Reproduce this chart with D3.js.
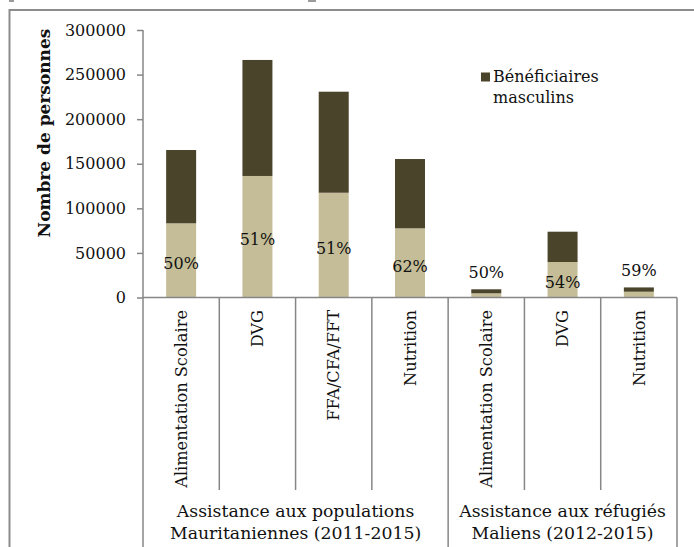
<!DOCTYPE html>
<html>
<head>
<meta charset="utf-8">
<script src="https://cdn.jsdelivr.net/npm/d3@7"></script>
<style>
  html, body { margin: 0; padding: 0; background: #fff; }
  svg { display: block; }
  text { font-family: "DejaVu Serif", "Liberation Serif", serif; fill: #111; }
</style>
</head>
<body>
<svg id="chart" width="694" height="547"></svg>
<script>
// Beneficiaries per programme activity
const categories = ["Alimentation Scolaire", "DVG", "FFA/CFA/FFT", "Nutrition",
                    "Alimentation Scolaire", "DVG", "Nutrition"];
const groupOf = [0, 0, 0, 0, 1, 1, 1];
const groups = [
  ["Assistance aux populations", "Mauritaniennes (2011-2015)"],
  ["Assistance aux réfugiés", "Maliens (2012-2015)"]
];
const female = [83200, 136300, 117500, 77600, 4700, 39800, 6500];
const male = [82200, 130100, 113300, 77700, 4500, 34000, 4800];
const shareLabels = ["50%", "51%", "51%", "62%", "50%", "54%", "59%"];
const yTicks = [0, 50000, 100000, 150000, 200000, 250000, 300000];
const legendLabel = ["Bénéficiaires", "masculins"];

const colFemale = "#c4bd97";
const colMale = "#4a442a";
const colAxis = "#868686";

const svg = d3.select("#chart");

// outer frame
svg.append("path")
  .attr("d", "M9.5,547 V10 H694")
  .attr("fill", "none").attr("stroke", "#8c8c8c").attr("stroke-width", 2);
svg.append("rect").attr("x", 9).attr("y", 0).attr("width", 5).attr("height", 2).attr("fill", "#9a9a9a");
svg.append("rect").attr("x", 308).attr("y", 0).attr("width", 8).attr("height", 2).attr("fill", "#9a9a9a");

const idx = d3.range(categories.length);
const x = d3.scaleBand().domain(idx).range([143, 677]).paddingInner(0).paddingOuter(0);
const y = d3.scaleLinear().domain([0, 300000]).range([297.5, 30]);
const barW = 30;

// stacked data
const rows = idx.map(i => ({ i, female: female[i], male: male[i] }));
const stack = d3.stack().keys(["female", "male"])(rows);
const colors = { female: colFemale, male: colMale };

svg.append("g").selectAll("g").data(stack).join("g")
  .attr("fill", s => colors[s.key])
  .selectAll("rect").data(s => s).join("rect")
  .attr("x", d => x(d.data.i) + x.bandwidth() / 2 - barW / 2)
  .attr("width", barW)
  .attr("y", d => y(d[1]))
  .attr("height", d => y(d[0]) - y(d[1]));

// y axis
const yAxis = svg.append("g")
  .attr("transform", "translate(143,0)")
  .call(d3.axisLeft(y).tickValues(yTicks).tickSize(6).tickSizeOuter(0).tickPadding(11)
    .tickFormat(d => String(d)));
yAxis.select(".domain").remove();
yAxis.selectAll(".tick line").attr("stroke", colAxis).attr("stroke-width", 1.5);
yAxis.selectAll(".tick text")
  .attr("font-family", "DejaVu Serif").attr("font-size", 16).attr("fill", "#111");

// axis lines and category dividers
const ax = svg.append("g").attr("stroke", colAxis).attr("stroke-width", 1.5).attr("fill", "none");
ax.append("line").attr("x1", 143).attr("x2", 143).attr("y1", 30).attr("y2", 547);
ax.append("line").attr("x1", 143).attr("x2", 677).attr("y1", 297.5).attr("y2", 297.5);
idx.slice(1).concat([categories.length]).forEach(i => {
  const xb = i < categories.length ? x(i) : x.range()[1];
  const isGroupEdge = i === categories.length || groupOf[i] !== groupOf[i - 1];
  ax.append("line").attr("x1", xb).attr("x2", xb)
    .attr("y1", 297.5).attr("y2", isGroupEdge ? 547 : 490);
});

// category labels
svg.append("g").selectAll("text").data(idx).join("text")
  .attr("transform", i => `translate(${x(i) + x.bandwidth() / 2},310) rotate(-90)`)
  .attr("text-anchor", "end").attr("dy", "0.35em")
  .attr("font-size", 16.2)
  .text(i => categories[i]);

// group labels
groups.forEach((g, gi) => {
  const members = idx.filter(i => groupOf[i] === gi);
  const x0 = x(members[0]);
  const x1 = x(members[members.length - 1]) + x.bandwidth();
  const t = svg.append("text")
    .attr("x", (x0 + x1) / 2).attr("y", 511)
    .attr("text-anchor", "middle").attr("font-size", 17.3);
  g.forEach((line, li) => {
    t.append("tspan").attr("x", (x0 + x1) / 2).attr("dy", li === 0 ? "0.35em" : 22).text(line);
  });
});

// share labels
svg.append("g").selectAll("text").data(rows).join("text")
  .attr("x", d => x(d.i) + x.bandwidth() / 2)
  .attr("y", d => {
    const h = y(0) - y(d.female);
    return h > 20 ? (y(0) + y(d.female)) / 2 + 3 : y(d.female + d.male) - 17;
  })
  .attr("text-anchor", "middle").attr("dy", "0.35em")
  .attr("font-size", 16)
  .text(d => shareLabels[d.i]);

// y title
svg.append("text")
  .attr("transform", "translate(44,133) rotate(-90)")
  .attr("text-anchor", "middle").attr("dy", "0.35em")
  .attr("font-size", 17).attr("font-weight", "bold")
  .text("Nombre de personnes");

// legend
svg.append("rect").attr("x", 481).attr("y", 72.5).attr("width", 9).attr("height", 9).attr("fill", colMale);
legendLabel.forEach((t, li) => {
  svg.append("text").attr("x", 493).attr("y", 76.7 + li * 21).attr("dy", "0.35em")
    .attr("font-size", 16).text(t);
});
</script>
</body>
</html>
